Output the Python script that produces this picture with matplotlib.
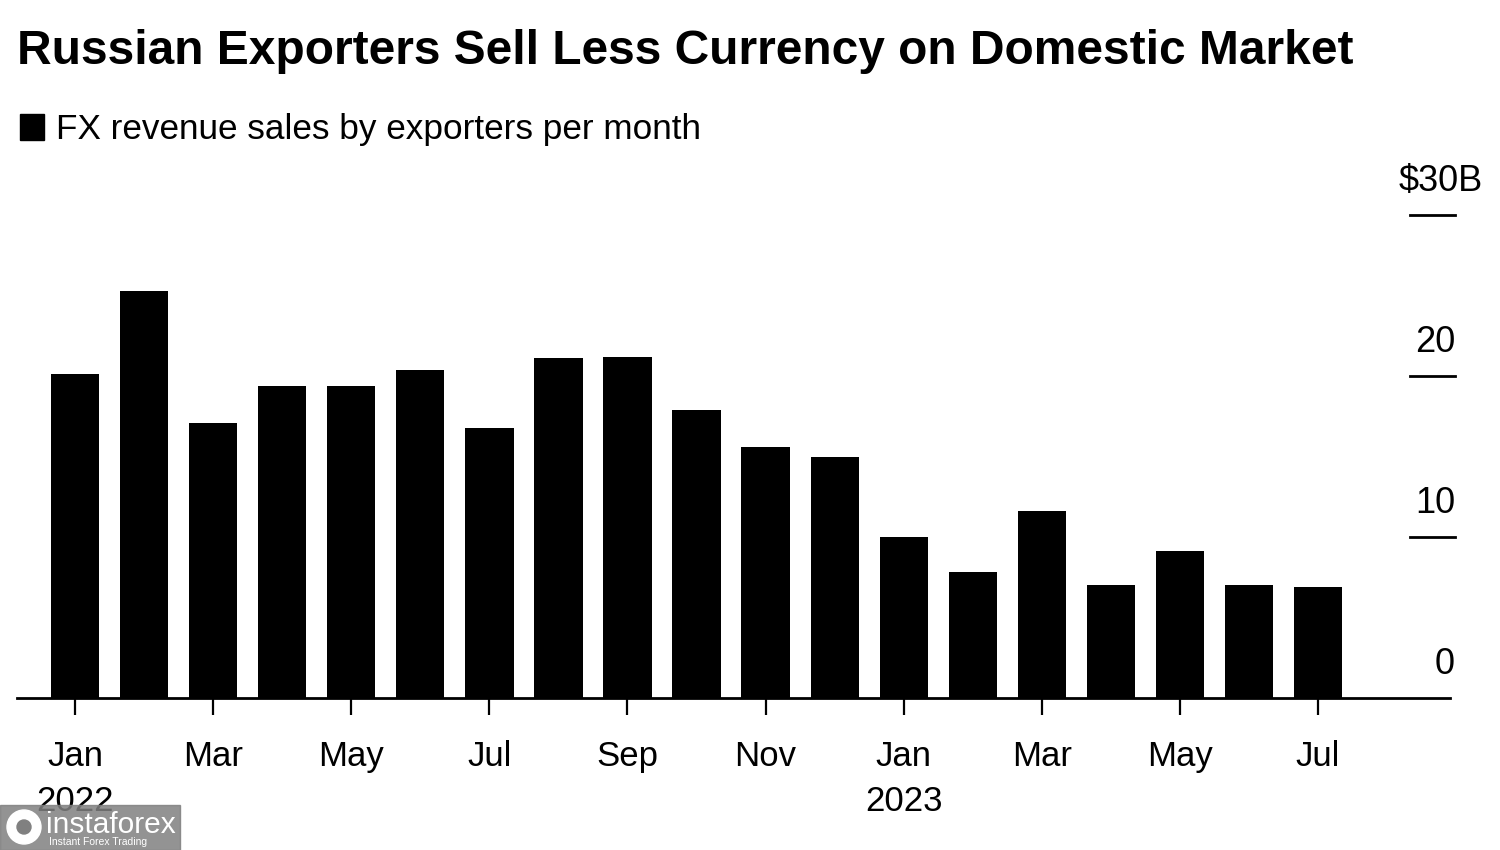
import matplotlib.pyplot as plt
import matplotlib.transforms as mtransforms
from matplotlib.patches import Rectangle, Ellipse

# Monthly FX revenue sales, $B (Jan 2022 - Jul 2023)
months = ["Jan", "Feb", "Mar", "Apr", "May", "Jun", "Jul", "Aug", "Sep", "Oct", "Nov", "Dec",
          "Jan", "Feb", "Mar", "Apr", "May", "Jun", "Jul"]
values = [20.1, 25.3, 17.1, 19.4, 19.4, 20.4, 16.8, 21.1, 21.2, 17.9, 15.6, 15.0,
          10.0, 7.8, 11.6, 7.0, 9.1, 7.0, 6.9]
year_labels = {0: "2022", 12: "2023"}
y_ticks = [0, 10, 20, 30]
y_tick_labels = ["0", "10", "20", "$30B"]

plt.rcParams['font.family'] = ['Liberation Sans', 'DejaVu Sans']
narrow = ['Liberation Sans Narrow', 'Liberation Sans', 'DejaVu Sans']

fig = plt.figure(figsize=(15, 8.5), dpi=100)
ax = fig.add_axes([17 / 1500, 1 - 698 / 850, (1450 - 17) / 1500, (698 - 215) / 850])

x = list(range(len(values)))
ax.bar(x, values, width=0.7, color="black", zorder=2)

ax.set_xlim(-0.84, 19.91)
ax.set_ylim(0, 30)

for s in ["top", "right", "left"]:
    ax.spines[s].set_visible(False)
ax.spines["bottom"].set_linewidth(2)
ax.set_yticks([])

# month ticks every other month
tick_pos = x[::2]
ax.set_xticks(tick_pos)
ax.set_xticklabels([months[i] for i in tick_pos], fontsize=25, family=narrow)
ax.tick_params(axis="x", length=12, width=1.6, pad=18, color="black")

xtrans = mtransforms.blended_transform_factory(ax.transData, ax.transAxes)
for i, yr in year_labels.items():
    ax.text(i, -0.215, yr, transform=xtrans, ha="center", va="center",
            fontsize=25, family=narrow)

# right side y ticks: short lines with labels above
trans = mtransforms.blended_transform_factory(fig.transFigure, ax.transData)
for v, lab in zip(y_ticks, y_tick_labels):
    if v > 0:
        ax.plot([1410 / 1500, 1455 / 1500], [v, v], transform=trans, color="black",
                lw=2, clip_on=False)
    xr = 1483 if lab.endswith("B") else 1455
    ax.text(xr / 1500, v + 1.5, lab, transform=trans, ha="right", va="baseline",
            fontsize=26, family=narrow)

# title and legend
fig.text(17 / 1500, 1 - 64 / 850, "Russian Exporters Sell Less Currency on Domestic Market",
         fontsize=34.5, fontweight="bold", ha="left", va="baseline")
fig.patches.append(Rectangle((20 / 1500, 1 - 140 / 850), 24 / 1500, 26 / 850,
                             transform=fig.transFigure, color="black"))
fig.text(56 / 1500, 1 - 139 / 850, "FX revenue sales by exporters per month",
         fontsize=25.3, ha="left", va="baseline")

# watermark
fig.patches.append(Rectangle((0, 0), 180 / 1500, 45 / 850, transform=fig.transFigure,
                             color="#808080", alpha=0.85, zorder=5))
fig.patches.append(Ellipse((24 / 1500, 1 - 827 / 850), 34 / 1500, 34 / 850,
                           transform=fig.transFigure, color="white", zorder=6))
fig.patches.append(Ellipse((24 / 1500, 1 - 827 / 850), 14 / 1500, 14 / 850,
                           transform=fig.transFigure, color="#808080", zorder=7))
fig.text(46 / 1500, 1 - 825 / 850, "instaforex", fontsize=21.5, color="white",
         ha="left", va="center", zorder=6)
fig.text(49 / 1500, 1 - 842 / 850, "Instant Forex Trading", fontsize=7.5, color="white",
         ha="left", va="center", zorder=6)

fig.savefig("out.png", dpi=100)
